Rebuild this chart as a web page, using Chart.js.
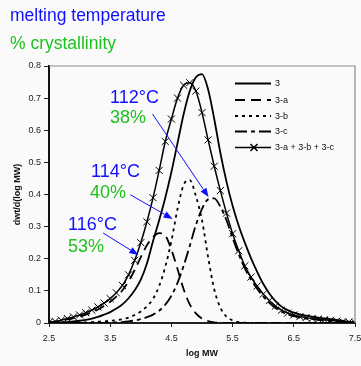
<!DOCTYPE html>
<html>
<head>
<meta charset="utf-8">
<script src="https://cdn.jsdelivr.net/npm/chart.js@4.4.0/dist/chart.umd.min.js"></script>
<style>
  html, body { margin: 0; padding: 0; background: #fafafa; }
  #wrap { position: relative; width: 361px; height: 366px; }
</style>
</head>
<body>
<div id="wrap"><canvas id="mwChart" width="361" height="366"></canvas></div>
<script>
// log MW grid (x) and the curves
const logMW = [2.5, 2.6, 2.7, 2.8, 2.9, 3.0, 3.1, 3.2, 3.3, 3.4,
               3.5, 3.6, 3.7, 3.8, 3.9, 4.0, 4.1, 4.2, 4.3, 4.4,
               4.5, 4.6, 4.7, 4.8, 4.9, 5.0, 5.1, 5.2, 5.3, 5.4,
               5.5, 5.6, 5.7, 5.8, 5.9, 6.0, 6.1, 6.2, 6.3, 6.4,
               6.5, 6.6, 6.7, 6.8, 6.9, 7.0, 7.1, 7.2, 7.3, 7.4, 7.5];

const curve3 = [0.000, 0.001, 0.002, 0.003, 0.005, 0.007, 0.010, 0.014, 0.019, 0.026,
                0.034, 0.045, 0.058, 0.077, 0.102, 0.135, 0.185, 0.255, 0.320, 0.390,
                0.470, 0.560, 0.650, 0.722, 0.765, 0.775, 0.727, 0.635, 0.530, 0.440,
                0.365, 0.303, 0.250, 0.202, 0.160, 0.122, 0.092, 0.068, 0.051, 0.040,
                0.032, 0.027, 0.023, 0.020, 0.017, 0.014, 0.012, 0.010, 0.007, 0.004, 0.002];

const curve3a = [0.002, 0.004, 0.007, 0.011, 0.015, 0.020, 0.026, 0.033, 0.042, 0.053,
                 0.066, 0.082, 0.102, 0.130, 0.165, 0.205, 0.242, 0.268, 0.280, 0.272,
                 0.228, 0.168, 0.105, 0.058, 0.030, 0.014, 0.006, 0.002, 0.001, 0,
                 0, 0, 0, 0, 0, 0, 0, 0, 0, 0,
                 0, 0, 0, 0, 0, 0, 0, 0, 0, 0, 0];

const curve3b = [0, 0, 0, 0.001, 0.001, 0.002, 0.002, 0.003, 0.004, 0.005,
                 0.007, 0.009, 0.012, 0.017, 0.025, 0.036, 0.052, 0.075, 0.115, 0.175,
                 0.255, 0.355, 0.430, 0.445, 0.395, 0.320, 0.205, 0.105, 0.048, 0.020,
                 0.008, 0.003, 0.001, 0, 0, 0, 0, 0, 0, 0,
                 0, 0, 0, 0, 0, 0, 0, 0, 0, 0, 0];

const curve3c = [0, 0, 0, 0, 0, 0, 0, 0, 0, 0,
                 0.001, 0.002, 0.003, 0.005, 0.008, 0.012, 0.018, 0.026, 0.038, 0.057,
                 0.085, 0.125, 0.178, 0.240, 0.305, 0.355, 0.385, 0.388, 0.362, 0.320,
                 0.265, 0.214, 0.170, 0.135, 0.107, 0.083, 0.063, 0.047, 0.035, 0.027,
                 0.021, 0.017, 0.014, 0.012, 0.010, 0.008, 0.006, 0.005, 0.003, 0.002, 0.001];

const curveSum = [0.002, 0.005, 0.009, 0.014, 0.019, 0.025, 0.032, 0.040, 0.050, 0.062,
                  0.076, 0.094, 0.117, 0.150, 0.195, 0.250, 0.315, 0.390, 0.475, 0.565,
                  0.635, 0.700, 0.740, 0.748, 0.722, 0.655, 0.570, 0.488, 0.412, 0.342,
                  0.278, 0.225, 0.178, 0.143, 0.115, 0.090, 0.070, 0.053, 0.040, 0.031,
                  0.025, 0.020, 0.017, 0.014, 0.012, 0.010, 0.008, 0.006, 0.004, 0.003, 0.001];

const xTicks = [2.5, 3.5, 4.5, 5.5, 6.5, 7.5];
const yTicks = [0, 0.1, 0.2, 0.3, 0.4, 0.5, 0.6, 0.7, 0.8];

// annotation arrows, in data units: [fromX, fromY, toX, toY]
const arrows = [
  [4.19, 0.651, 5.107, 0.392],
  [3.83, 0.399, 4.52, 0.324],
  [3.385, 0.28, 3.96, 0.212]
];

const FONT = "'Liberation Sans', Arial, sans-serif";
const BLUE = '#1010ff';
const GREEN = '#20c020';
Chart.defaults.font.family = FONT;

function series(label, values, extra) {
  return Object.assign({
    label: label,
    data: values.map((y, i) => ({ x: logMW[i], y: y })),
    borderColor: '#000',
    backgroundColor: '#000',
    borderWidth: 1.8,
    pointRadius: 0,
    fill: false,
    cubicInterpolationMode: 'monotone'
  }, extra || {});
}

const decor = {
  id: 'decor',
  afterDraw(chart) {
    const ctx = chart.ctx;
    const a = chart.chartArea;
    const xs = chart.scales.x, ys = chart.scales.y;
    ctx.save();

    // plot frame, top and right side
    ctx.strokeStyle = '#8a8a8a';
    ctx.lineWidth = 1.2;
    ctx.beginPath();
    ctx.moveTo(a.left, a.top);
    ctx.lineTo(a.right, a.top);
    ctx.lineTo(a.right, a.bottom);
    ctx.stroke();

    // header
    ctx.textAlign = 'left';
    ctx.textBaseline = 'alphabetic';
    ctx.font = '17.5px ' + FONT;
    ctx.fillStyle = BLUE;
    ctx.fillText('melting temperature', 10, 21);
    ctx.fillStyle = GREEN;
    ctx.fillText('% crystallinity', 10, 49);

    // axis titles
    ctx.fillStyle = '#111';
    ctx.font = 'bold 9px ' + FONT;
    ctx.textAlign = 'center';
    ctx.fillText('log MW', (a.left + a.right) / 2, 356);
    ctx.save();
    ctx.translate(20, (a.top + a.bottom) / 2);
    ctx.rotate(-Math.PI / 2);
    ctx.fillText('dwt/d(log MW)', 0, 0);
    ctx.restore();

    // legend
    const rows = [83.5, 100, 116, 131.5, 147.5];
    ctx.font = '9px ' + FONT;
    ctx.textAlign = 'left';
    ctx.textBaseline = 'middle';
    chart.data.datasets.forEach((d, i) => {
      const y = rows[i];
      ctx.strokeStyle = '#000';
      ctx.lineWidth = d.borderWidth;
      ctx.setLineDash(d.borderDash || []);
      ctx.beginPath();
      ctx.moveTo(235, y);
      ctx.lineTo(271, y);
      ctx.stroke();
      ctx.setLineDash([]);
      if (d.pointRadius > 0) {
        Chart.helpers.drawPoint(ctx, {
          pointStyle: d.pointStyle, radius: d.pointRadius, rotation: 0,
          borderWidth: d.pointBorderWidth
        }, 254, y);
      }
      ctx.fillStyle = '#111';
      ctx.fillText(d.label, 275, y + 0.5);
    });

    // arrows
    ctx.strokeStyle = BLUE;
    ctx.fillStyle = BLUE;
    ctx.lineWidth = 1;
    arrows.forEach(([x0, y0, x1, y1]) => {
      const px0 = xs.getPixelForValue(x0), py0 = ys.getPixelForValue(y0);
      const px1 = xs.getPixelForValue(x1), py1 = ys.getPixelForValue(y1);
      const ang = Math.atan2(py1 - py0, px1 - px0);
      const len = 9, hw = 3.5;
      const bx = px1 - len * Math.cos(ang), by = py1 - len * Math.sin(ang);
      ctx.beginPath();
      ctx.moveTo(px0, py0);
      ctx.lineTo(bx, by);
      ctx.stroke();
      ctx.beginPath();
      ctx.moveTo(px1, py1);
      ctx.lineTo(bx + hw * Math.sin(ang), by - hw * Math.cos(ang));
      ctx.lineTo(bx - hw * Math.sin(ang), by + hw * Math.cos(ang));
      ctx.closePath();
      ctx.fill();
    });

    // temperature / crystallinity labels
    ctx.font = '18px ' + FONT;
    ctx.textBaseline = 'alphabetic';
    ctx.textAlign = 'left';
    [['112°C', BLUE, 110, 103], ['38%', GREEN, 110, 123],
     ['114°C', BLUE, 91, 177], ['40%', GREEN, 90, 198],
     ['116°C', BLUE, 68, 230], ['53%', GREEN, 68, 252]].forEach(([t, c, x, y]) => {
      ctx.fillStyle = c;
      ctx.fillText(t, x, y);
    });

    ctx.restore();
  }
};

const ctx = document.getElementById('mwChart').getContext('2d');
const mwChart = new Chart(ctx, {
  type: 'line',
  data: {
    datasets: [
      series('3', curve3),
      series('3-a', curve3a, { borderDash: [10, 6] }),
      series('3-b', curve3b, { borderDash: [3, 4] }),
      series('3-c', curve3c, { borderDash: [12, 4, 4, 4] }),
      series('3-a + 3-b + 3-c', curveSum, {
        borderWidth: 1.5,
        pointRadius: 5,
        pointStyle: 'crossRot',
        pointBorderWidth: 1,
        pointBorderColor: '#000'
      })
    ]
  },
  options: {
    responsive: false,
    devicePixelRatio: 1,
    animation: false,
    layout: { padding: { top: 66, right: 6, left: 0, bottom: 0 } },
    plugins: {
      legend: { display: false },
      tooltip: { enabled: false }
    },
    scales: {
      x: {
        type: 'linear',
        min: 2.5,
        max: 7.5,
        afterBuildTicks: s => { s.ticks = xTicks.map(v => ({ value: v })); },
        afterFit: s => { s.height = 43; s.paddingLeft = 0; s.paddingRight = 0; },
        ticks: {
          callback: v => v.toFixed(1),
          font: { size: 9 },
          color: '#222',
          padding: 6,
          maxRotation: 0,
          autoSkip: false
        },
        grid: { drawOnChartArea: false, tickLength: 4, color: '#222' },
        border: { color: '#222', width: 2 }
      },
      y: {
        type: 'linear',
        min: 0,
        max: 0.8,
        afterBuildTicks: s => { s.ticks = yTicks.map(v => ({ value: v })); },
        afterFit: s => { s.width = 49; s.paddingTop = 0; s.paddingBottom = 0; },
        ticks: {
          callback: v => (v === 0 ? '0' : v.toFixed(1)),
          font: { size: 9 },
          color: '#222',
          padding: 3,
          autoSkip: false
        },
        grid: { drawOnChartArea: false, tickLength: 5, color: '#222' },
        border: { color: '#111', width: 2 }
      }
    }
  },
  plugins: [decor]
});
</script>
</body>
</html>
